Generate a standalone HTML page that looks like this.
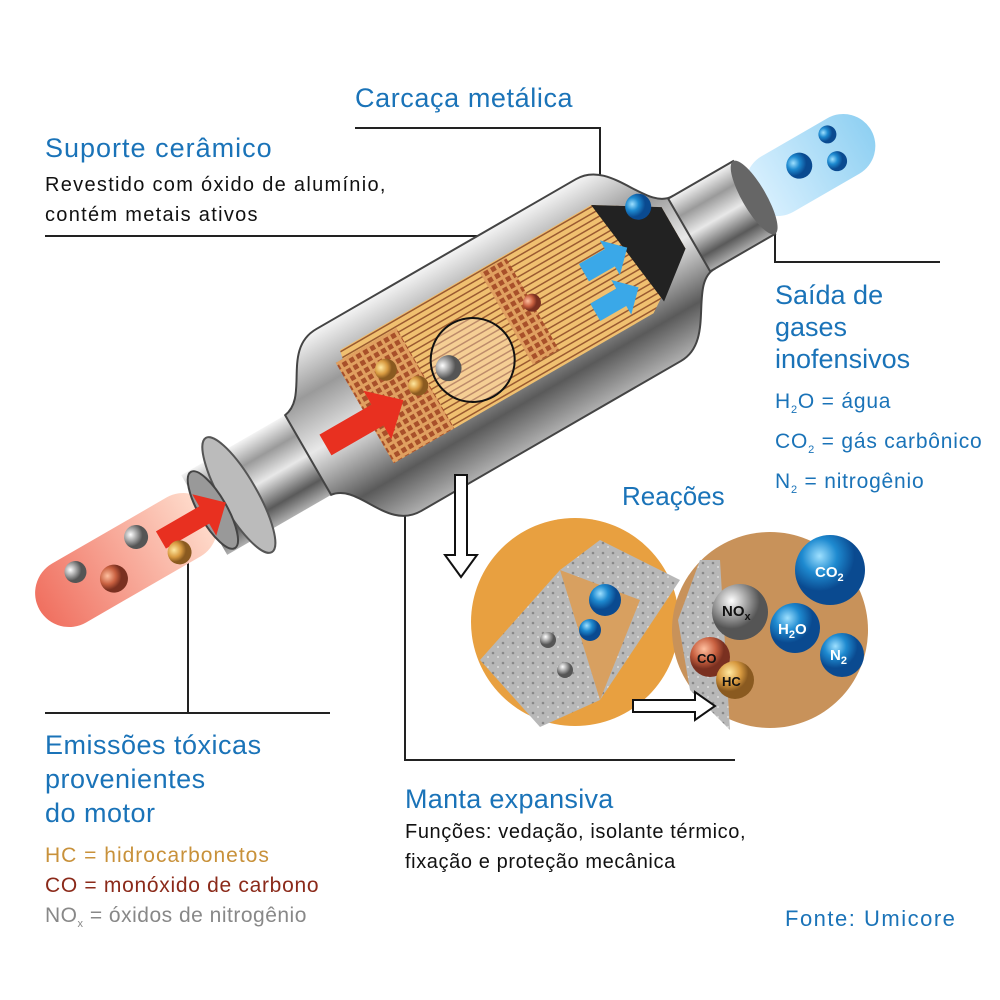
<!DOCTYPE html>
<html><head><meta charset="utf-8">
<style>
html,body{margin:0;padding:0;background:#fff;}
#c{position:relative;width:1000px;height:1000px;overflow:hidden;font-family:"Liberation Sans",sans-serif;}
.t{position:absolute;white-space:nowrap;}
.b{color:#1a73b8;}
</style></head><body><div id="c">
<svg width="1000" height="1000" style="position:absolute;left:0;top:0">
<defs>
<linearGradient id="silv" x1="0" y1="0" x2="0" y2="1">
<stop offset="0" stop-color="#f4f4f4"/><stop offset=".25" stop-color="#9a9a9a"/><stop offset=".5" stop-color="#e8e8e8"/><stop offset=".8" stop-color="#5a5a5a"/><stop offset="1" stop-color="#b0b0b0"/></linearGradient>
<linearGradient id="red" x1="0" y1="0" x2="1" y2="0"><stop offset="0" stop-color="#f07060"/><stop offset="1" stop-color="#ffe0d0"/></linearGradient>
<linearGradient id="blu" x1="0" y1="0" x2="1" y2="0"><stop offset="0" stop-color="#d8f0ff"/><stop offset="1" stop-color="#7cc8f0"/></linearGradient>
<pattern id="hc" width="8" height="8" patternUnits="userSpaceOnUse"><rect width="8" height="8" fill="#e0a060"/><rect x="1" y="1" width="5" height="5" fill="#a8502a"/></pattern>
<pattern id="ln" width="20" height="6" patternUnits="userSpaceOnUse"><rect width="20" height="6" fill="#f0c070"/><rect y="4" width="20" height="1.5" fill="#9a5a30"/></pattern>
<pattern id="gr" width="10" height="10" patternUnits="userSpaceOnUse"><rect width="10" height="10" fill="#b8b8b8"/><circle cx="3" cy="3" r="1.3" fill="#888"/><circle cx="8" cy="7" r="1" fill="#ddd"/></pattern>
<radialGradient id="bb" cx=".35" cy=".3"><stop offset="0" stop-color="#9ee0ff"/><stop offset=".5" stop-color="#1e8ad0"/><stop offset="1" stop-color="#0a4a90"/></radialGradient>
<radialGradient id="gb" cx=".35" cy=".3"><stop offset="0" stop-color="#fff"/><stop offset=".6" stop-color="#999"/><stop offset="1" stop-color="#555"/></radialGradient>
<radialGradient id="ob" cx=".35" cy=".3"><stop offset="0" stop-color="#ffe8a0"/><stop offset=".6" stop-color="#d89a40"/><stop offset="1" stop-color="#8a5a20"/></radialGradient>
<radialGradient id="rb" cx=".35" cy=".3"><stop offset="0" stop-color="#ffc0a0"/><stop offset=".6" stop-color="#c86040"/><stop offset="1" stop-color="#7a3020"/></radialGradient>
</defs>
<g stroke="#222" stroke-width="2" fill="none">
<path d="M355 128 H600 V215"/>
<path d="M45 236 H510 V415"/>
<path d="M775 220 V262 H940"/>
<path d="M188 545 V713 H45"/>
<path d="M330 713 H188"/>
<path d="M405 380 V760 H735"/>
</g>
<g transform="translate(490,350) rotate(-30)">
<rect x="-520" y="-34" width="200" height="68" rx="34" fill="url(#red)"/>
<rect x="300" y="-32" width="140" height="64" rx="32" fill="url(#blu)" opacity=".85"/>
<rect x="-330" y="-46" width="130" height="92" fill="url(#silv)"/>
<ellipse cx="-290" cy="0" rx="18" ry="66" fill="#bbb" stroke="#555" stroke-width="2"/>
<ellipse cx="-320" cy="0" rx="14" ry="44" fill="#999" stroke="#444" stroke-width="2"/>
<path d="M-210 -46 C-180 -50 -180 -105 -140 -105 H160 C200 -105 205 -42 235 -42 V42 C205 42 200 105 160 105 H-140 C-180 105 -180 50 -210 46 Z" fill="url(#silv)" stroke="#444" stroke-width="2"/>
<rect x="230" y="-42" width="75" height="84" fill="url(#silv)" stroke="#444" stroke-width="2"/>
<ellipse cx="305" cy="0" rx="12" ry="42" fill="#666"/>
<path d="M-140 -30 L-130 -75 H160 L220 -38 V10 L160 50 H-140 Z" fill="url(#ln)"/>
<rect x="-140" y="-66" width="70" height="116" fill="url(#hc)"/>
<rect x="30" y="-72" width="30" height="106" fill="url(#hc)"/>
<path d="M160 -75 L220 -38 V10 L175 45 Z" fill="#222"/>
<circle cx="-20" cy="0" r="42" fill="#ffe8d8" fill-opacity=".35" stroke="#111" stroke-width="2"/>
<circle cx="-45" cy="-5" r="13" fill="url(#gb)"/>
<circle cx="-100" cy="-35" r="11" fill="url(#ob)"/>
<circle cx="-80" cy="-5" r="10" fill="url(#ob)"/>
<circle cx="60" cy="-20" r="9" fill="url(#rb)"/>
<circle cx="200" cy="-50" r="13" fill="url(#bb)"/>
<circle cx="360" cy="-5" r="13" fill="url(#bb)"/>
<circle cx="395" cy="10" r="10" fill="url(#bb)"/>
<circle cx="400" cy="-18" r="9" fill="url(#bb)"/>
<path d="M-190 -12 H-130 V-28 L-100 0 L-130 28 V12 H-190 Z" fill="#e83020"/>
<path d="M-380 -10 H-330 V-24 L-305 0 L-330 24 V10 H-380 Z" fill="#e83020"/>
<circle cx="-440" cy="10" r="14" fill="url(#rb)"/>
<circle cx="-400" cy="-15" r="12" fill="url(#gb)"/>
<circle cx="-370" cy="20" r="12" fill="url(#ob)"/>
<circle cx="-470" cy="-15" r="11" fill="url(#gb)"/>
<path d="M120 -30 h30 v-10 l20 20 l-20 20 v-10 h-30z" fill="#3aa8e8"/>
<path d="M110 10 h30 v-10 l20 20 l-20 20 v-10 h-30z" fill="#3aa8e8"/>
</g>
<path d="M455 475 h12 v80 h10 l-16 22 l-16 -22 h10z" fill="#fff" stroke="#111" stroke-width="2"/>
<circle cx="575" cy="622" r="104" fill="#e8a040"/>
<path d="M480 660 L560 570 L600 540 L680 580 L640 640 L600 700 L540 727 Z" fill="url(#gr)"/>
<path d="M560 570 L640 600 L600 700 Z" fill="#d8a060"/>
<circle cx="605" cy="600" r="16" fill="url(#bb)"/>
<circle cx="590" cy="630" r="11" fill="url(#bb)"/>
<circle cx="548" cy="640" r="8" fill="url(#gb)"/>
<circle cx="565" cy="670" r="8" fill="url(#gb)"/>
<circle cx="770" cy="630" r="98" fill="#c8925a"/>
<path d="M678 620 L700 560 L720 560 L730 730 L690 690 Z" fill="url(#gr)"/>
<circle cx="830" cy="570" r="35" fill="url(#bb)"/>
<circle cx="795" cy="628" r="25" fill="url(#bb)"/>
<circle cx="842" cy="655" r="22" fill="url(#bb)"/>
<circle cx="740" cy="612" r="28" fill="url(#gb)"/>
<circle cx="710" cy="657" r="20" fill="url(#rb)"/>
<circle cx="735" cy="680" r="19" fill="url(#ob)"/>
<g font-family="Liberation Sans" font-weight="bold" fill="#fff" font-size="15">
<text x="815" y="577">CO<tspan font-size="11" dy="4">2</tspan></text>
<text x="778" y="634">H<tspan font-size="11" dy="4">2</tspan><tspan dy="-4">O</tspan></text>
<text x="830" y="660">N<tspan font-size="11" dy="4">2</tspan></text>
<text x="722" y="616" fill="#111">NO<tspan font-size="11" dy="4">x</tspan></text>
<text x="697" y="663" fill="#111" font-size="13">CO</text>
<text x="722" y="686" fill="#111" font-size="13">HC</text>
</g>
<path d="M633 700 h62 v-8 l20 14 l-20 14 v-8 h-62z" fill="#fff" stroke="#111" stroke-width="2"/>
</svg>
<div class="t b" style="left:355px;top:83px;font-size:27px;letter-spacing:.6px">Carcaça metálica</div>
<div class="t b" style="left:45px;top:133px;font-size:27px;letter-spacing:1px">Suporte cerâmico</div>
<div class="t" style="left:45px;top:174px;font-size:20px;letter-spacing:1.3px;color:#111">Revestido com óxido de alumínio,</div>
<div class="t" style="left:45px;top:204px;font-size:20px;letter-spacing:1.3px;color:#111">contém metais ativos</div>
<div class="t b" style="left:775px;top:279px;font-size:27px;line-height:32px">Saída de<br>gases<br>inofensivos</div>
<div class="t b" style="left:775px;top:386px;font-size:21px;letter-spacing:.8px;line-height:31px">H<sub style="font-size:11px">2</sub>O = água<br>CO<sub style="font-size:11px">2</sub> = gás carbônico<br>N<sub style="font-size:11px">2</sub> = nitrogênio</div>
<div class="t b" style="left:622px;top:481px;font-size:26px">Reações</div>
<div class="t b" style="left:45px;top:728px;font-size:27px;letter-spacing:.5px;line-height:34px">Emissões tóxicas<br>provenientes<br>do motor</div>
<div class="t" style="left:45px;top:844px;font-size:21px;letter-spacing:1px;color:#c8913a">HC = hidrocarbonetos</div>
<div class="t" style="left:45px;top:874px;font-size:21px;letter-spacing:.7px;color:#8b2a1a">CO = monóxido de carbono</div>
<div class="t" style="left:45px;top:904px;font-size:21px;letter-spacing:.5px;color:#888">NO<sub style="font-size:11px">x</sub> = óxidos de nitrogênio</div>
<div class="t b" style="left:405px;top:784px;font-size:27px;letter-spacing:.3px">Manta expansiva</div>
<div class="t" style="left:405px;top:821px;font-size:20px;letter-spacing:.6px;color:#111">Funções: vedação, isolante térmico,</div>
<div class="t" style="left:405px;top:851px;font-size:20px;letter-spacing:.6px;color:#111">fixação e proteção mecânica</div>
<div class="t b" style="left:785px;top:906px;font-size:22px;letter-spacing:1.5px">Fonte: Umicore</div>
</div></body></html>
